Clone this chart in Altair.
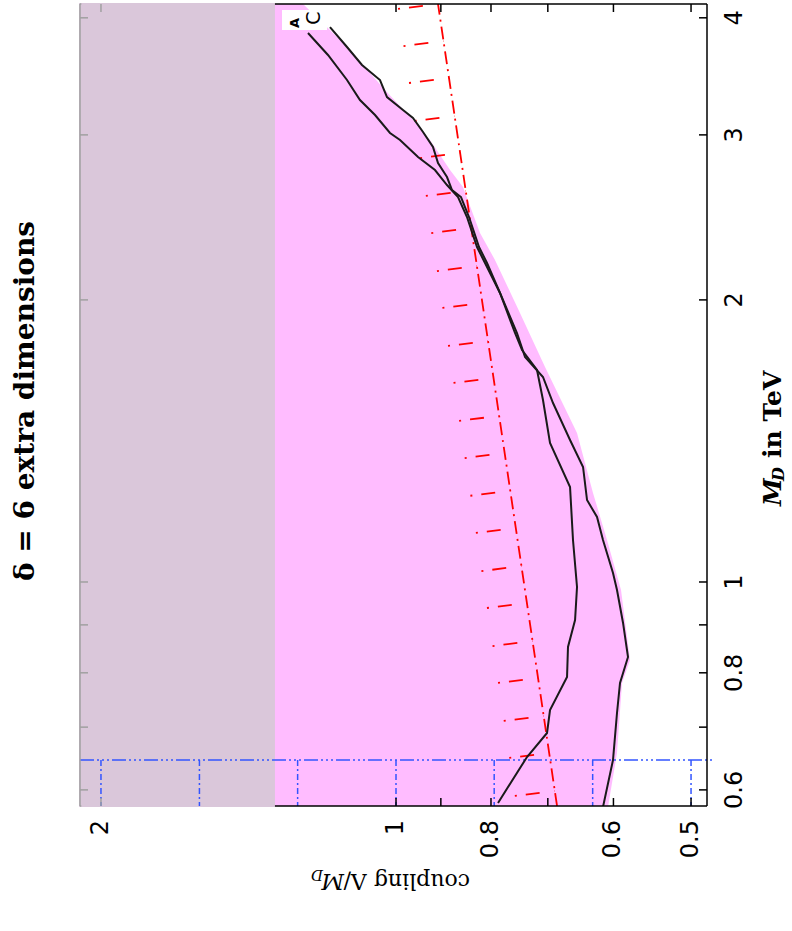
import altair as alt
import pandas as pd

# ---------------- data ----------------
md_domain = [0.5767, 4.138]      # M_D in TeV (vertical, log)
coup_domain = [0.4816, 2.101]    # coupling Lambda/M_D (horizontal, log, reversed)

# curve A (M_D, coupling)
a_md = [0.5810, 0.6505, 0.6900, 0.7301, 0.7918, 0.8524, 0.9108, 0.9878, 1.1087, 1.2629,
        1.4070, 1.5639, 1.6836, 1.7683, 1.8438, 2.0342, 2.1898, 2.2775, 2.4518, 2.5752,
        2.6523, 2.7518, 2.8411, 2.9623, 3.0139, 3.1501, 3.2685, 3.4331, 3.6505, 3.8533]
a_c = [0.7869, 0.7351, 0.7013, 0.6964, 0.6691, 0.6676, 0.6566, 0.6536, 0.6598, 0.6644,
       0.6964, 0.7080, 0.7180, 0.7437, 0.7561, 0.7832, 0.8113, 0.8267, 0.8464, 0.8644,
       0.8871, 0.9125, 0.9496, 0.9906, 1.0142, 1.0505, 1.0883, 1.1220, 1.1733, 1.2297]

# curve C
c_md = [0.5753, 0.6457, 0.7248, 0.7802, 0.8317, 0.9042, 0.9805, 1.0224, 1.1087, 1.1732,
        1.2232, 1.3266, 1.4175, 1.5524, 1.6548, 1.7382, 1.8438, 2.0342, 2.1898, 2.2775,
        2.4518, 2.5752, 2.6198, 2.7049, 2.7996, 2.9118, 3.0214, 3.1268, 3.1891, 3.2925,
        3.4331, 3.5621, 3.7231, 3.9104]
c_c = [0.6149, 0.6006, 0.5950, 0.5908, 0.5798, 0.5866, 0.5950, 0.6006, 0.6149, 0.6236,
       0.6384, 0.6444, 0.6644, 0.6915, 0.7080, 0.7385, 0.7526, 0.7832, 0.8075, 0.8228,
       0.8424, 0.8584, 0.8767, 0.8871, 0.9060, 0.9168, 0.9385, 0.9609, 0.9837, 1.0214,
       1.0383, 1.0832, 1.1220, 1.1678]

# edge of the pink (excluded) region
pink_md = [0.5753, 0.6570, 0.7802, 0.8256, 0.9805, 1.1087, 1.2445, 1.4421, 1.6961, 1.9366,
           2.2060, 2.3573, 2.6393, 2.7518, 2.9623, 3.1116, 3.3497, 3.6957, 3.8820, 4.138]
pink_c = [0.6077, 0.5950, 0.5880, 0.5771, 0.5894, 0.6091, 0.6295, 0.6536, 0.7046, 0.7473,
          0.7925, 0.8209, 0.8544, 0.8808, 0.9232, 0.9609, 1.0262, 1.1142, 1.1678, 1.2442]

# grey region: coupling above this value
gray_edge = 1.329

# red dash-dot bound and its hatches
red_md = [0.5767, 4.138]
red_c = [0.685, 0.906]
hatch_md = [4.138, 3.778, 3.450, 3.142, 2.869, 2.614, 2.386, 2.174, 1.985, 1.808, 1.651,
            1.504, 1.373, 1.251, 1.142, 1.040, 0.9497, 0.8650, 0.7899, 0.7195, 0.6570, 0.5984]
hatch_c = [0.9060, 0.8944, 0.8829, 0.8714, 0.8602, 0.8487, 0.8380, 0.8269, 0.8163, 0.8056,
           0.7953, 0.7849, 0.7747, 0.7644, 0.7546, 0.7448, 0.7352, 0.7256, 0.7163, 0.7068,
           0.6977, 0.6886]
hatch_md_end = [4.088, 3.732, 3.408, 3.104, 2.834, 2.582, 2.357, 2.147, 1.961, 1.786, 1.631,
                1.486, 1.356, 1.236, 1.128, 1.027, 0.9381, 0.8544, 0.7803, 0.7107, 0.6490, 0.5911]
hatch_c_end = [0.9952, 0.9825, 0.9699, 0.9572, 0.9449, 0.9323, 0.9205, 0.9083, 0.8967, 0.8850,
               0.8736, 0.8622, 0.8510, 0.8397, 0.8289, 0.8182, 0.8076, 0.7971, 0.7869, 0.7764,
               0.7664, 0.7564]

# blue dash-dot-dot bound
blue_md = 0.6457
blue_drops = [2.0, 1.587, 1.26, 1.0, 0.794, 0.63, 0.5]

# ticks and labels
x_ticks = [2, 1, 0.9, 0.8, 0.7, 0.6, 0.5]
x_labels = [2, 1, 0.8, 0.6, 0.5]
y_ticks = [0.6, 0.7, 0.8, 0.9, 1, 2, 3, 4]
y_labels = [0.6, 0.8, 1, 2, 3, 4]

title_text = "δ = 6 extra dimensions"

# ---------------- styling ----------------
W, H = 627, 802
PINK = "#ffbcff"
GRAY = "#dac7da"
FRAME_GRAY = "#a0a0a0"
BLUE = "#3355ff"
RED = "#ff0000"
SERIF = "DejaVu Serif"
SANS = "DejaVu Sans"

xs = alt.Scale(type="log", domain=coup_domain, reverse=True, nice=False)
ys = alt.Scale(type="log", domain=md_domain, nice=False)
one = pd.DataFrame({"k": [0]})

pink = alt.Chart(pd.DataFrame({"md": pink_md, "c": pink_c})).mark_area(
    orient="horizontal", color=PINK, clip=True
).encode(
    y=alt.Y("md:Q", scale=ys, axis=None),
    x=alt.X("c:Q", scale=xs, axis=None, stack=None),
    x2=alt.X2(datum=coup_domain[1]),
)

gray = alt.Chart(one).mark_rect(color=GRAY).encode(
    x=alt.X(datum=gray_edge, type="quantitative", scale=xs, axis=None),
    x2=alt.value(-1),
    y=alt.value(-1),
    y2=alt.value(H + 1),
)

blue_h = alt.Chart(one).mark_rule(
    color=BLUE, strokeWidth=1.5, strokeDash=[14, 3, 2, 3, 2, 3, 2, 3]
).encode(
    y=alt.Y(datum=blue_md, type="quantitative", scale=ys, axis=None),
    x=alt.value(0),
    x2=alt.value(W + 6),
)

blue_v = alt.Chart(pd.DataFrame({"c": blue_drops})).mark_rule(
    color=BLUE, strokeWidth=1.5, strokeDash=[6, 3, 2, 3]
).encode(
    x=alt.X("c:Q", scale=xs, axis=None),
    y=alt.Y(datum=blue_md, type="quantitative", scale=ys, axis=None),
    y2=alt.value(H),
)

red_line = alt.Chart(pd.DataFrame({"md": red_md, "c": red_c, "i": [0, 1]})).mark_line(
    color=RED, strokeWidth=1.8, strokeDash=[13, 5, 2, 5], clip=True
).encode(
    x=alt.X("c:Q", scale=xs, axis=None),
    y=alt.Y("md:Q", scale=ys, axis=None),
    order="i:Q",
)

hrows = []
for i in range(len(hatch_md)):
    hrows.append({"h": i, "o": 0, "md": hatch_md_end[i], "c": hatch_c_end[i]})
    hrows.append({"h": i, "o": 1, "md": hatch_md[i], "c": hatch_c[i]})
hatches = alt.Chart(pd.DataFrame(hrows)).mark_line(
    color=RED, strokeWidth=1.8, strokeDash=[2, 9, 14, 15], clip=True
).encode(
    x=alt.X("c:Q", scale=xs, axis=None),
    y=alt.Y("md:Q", scale=ys, axis=None),
    detail="h:N",
    order="o:Q",
)

def curve(md, c):
    df = pd.DataFrame({"md": md, "c": c, "i": range(len(md))})
    return alt.Chart(df).mark_line(color="#1a1a1a", strokeWidth=2, clip=True).encode(
        x=alt.X("c:Q", scale=xs, axis=None),
        y=alt.Y("md:Q", scale=ys, axis=None),
        order="i:Q",
    )

curve_a = curve(a_md, a_c)
curve_c = curve(c_md, c_c)

label_box = alt.Chart(one).mark_rect(color="white").encode(
    x=alt.value(202), x2=alt.value(247), y=alt.value(6), y2=alt.value(26)
)
lab_a = alt.Chart(pd.DataFrame({"t": ["A"]})).mark_text(
    angle=270, font=SANS, fontSize=13, fontWeight="bold", align="center", baseline="middle"
).encode(text="t:N", x=alt.value(215), y=alt.value(19))
lab_c = alt.Chart(pd.DataFrame({"t": ["C"]})).mark_text(
    angle=270, font=SANS, fontSize=19, align="center", baseline="middle"
).encode(text="t:N", x=alt.value(234), y=alt.value(14))

# frame
frame_right = alt.Chart(one).mark_rule(color="black", strokeWidth=1.5).encode(
    x=alt.value(W), y=alt.value(0), y2=alt.value(H))
frame_top = alt.Chart(one).mark_rule(color="black", strokeWidth=1.5).encode(
    x=alt.X(datum=gray_edge, type="quantitative", scale=xs, axis=None),
    x2=alt.value(W), y=alt.value(0))
frame_bottom = alt.Chart(one).mark_rule(color="black", strokeWidth=1.5).encode(
    x=alt.X(datum=gray_edge, type="quantitative", scale=xs, axis=None),
    x2=alt.value(W), y=alt.value(H))
frame_left = alt.Chart(one).mark_rule(color=FRAME_GRAY, strokeWidth=1.5).encode(
    x=alt.value(0), y=alt.value(0), y2=alt.value(H))
frame_top_g = alt.Chart(one).mark_rule(color=FRAME_GRAY, strokeWidth=1.5).encode(
    x=alt.value(0), x2=alt.X2(datum=gray_edge), y=alt.value(0))
frame_bottom_g = alt.Chart(one).mark_rule(color=FRAME_GRAY, strokeWidth=1.5).encode(
    x=alt.value(0), x2=alt.X2(datum=gray_edge), y=alt.value(H))

xt = pd.DataFrame({"v": x_ticks})
xt["col"] = [FRAME_GRAY if v > gray_edge else "black" for v in x_ticks]
yt = pd.DataFrame({"v": y_ticks})

ticks_bottom = alt.Chart(xt).mark_rule(strokeWidth=1.5).encode(
    x=alt.X("v:Q", scale=xs, axis=None), y=alt.value(H), y2=alt.value(H - 8),
    color=alt.Color("col:N", scale=None))
ticks_top = alt.Chart(xt).mark_rule(strokeWidth=1.5).encode(
    x=alt.X("v:Q", scale=xs, axis=None), y=alt.value(0), y2=alt.value(8),
    color=alt.Color("col:N", scale=None))
ticks_right = alt.Chart(yt).mark_rule(strokeWidth=1.5, color="black").encode(
    y=alt.Y("v:Q", scale=ys, axis=None), x=alt.value(W), x2=alt.value(W - 8))
ticks_left = alt.Chart(yt).mark_rule(strokeWidth=1.5, color=FRAME_GRAY).encode(
    y=alt.Y("v:Q", scale=ys, axis=None), x=alt.value(0), x2=alt.value(8))

# tick labels (placed through the scales)
xl = pd.DataFrame({"v": x_labels, "lab": [f"{v:g}" for v in x_labels]})
yl = pd.DataFrame({"v": y_labels, "lab": [f"{v:g}" for v in y_labels]})
labels_x = alt.Chart(xl).mark_text(
    angle=270, font=SANS, fontSize=24, align="right", baseline="middle", color="black"
).encode(x=alt.X("v:Q", scale=xs, axis=None), y=alt.value(H + 14), text="lab:N")
labels_y = alt.Chart(yl).mark_text(
    angle=270, font=SANS, fontSize=24, align="center", baseline="top", color="black"
).encode(y=alt.Y("v:Q", scale=ys, axis=None), x=alt.value(W + 16), text="lab:N")

# titles
title = alt.Chart(pd.DataFrame({"t": [title_text]})).mark_text(
    angle=270, font=SERIF, fontSize=28, fontWeight="bold", align="center", baseline="middle"
).encode(text="t:N", x=alt.value(26 - 80), y=alt.value(401 - 4))

# x title, upside down: "coupling Λ/M_D"
xt_anchor = dict(x=alt.value(470 - 80), y=alt.value(874 - 4))
xt1 = alt.Chart(pd.DataFrame({"t": ["coupling Λ/"]})).mark_text(
    angle=180, font=SERIF, fontSize=22, align="left", baseline="alphabetic"
).encode(text="t:N", **xt_anchor)
xt2 = alt.Chart(pd.DataFrame({"t": ["M"]})).mark_text(
    angle=180, font=SERIF, fontSize=22, fontStyle="italic", align="left",
    baseline="alphabetic", dx=126
).encode(text="t:N", **xt_anchor)
xt3 = alt.Chart(pd.DataFrame({"t": ["D"]})).mark_text(
    angle=180, font=SERIF, fontSize=15, fontStyle="italic", align="left",
    baseline="alphabetic", dx=147, dy=4
).encode(text="t:N", **xt_anchor)

# y title: "M_D in TeV", reading upwards
yt_anchor = dict(x=alt.value(781 - 80), y=alt.value(506 - 4))
yt1 = alt.Chart(pd.DataFrame({"t": ["M"]})).mark_text(
    angle=270, font=SERIF, fontSize=25, fontStyle="italic", fontWeight="bold",
    align="left", baseline="alphabetic"
).encode(text="t:N", **yt_anchor)
yt2 = alt.Chart(pd.DataFrame({"t": ["D"]})).mark_text(
    angle=270, font=SERIF, fontSize=16, fontStyle="italic", fontWeight="bold",
    align="left", baseline="alphabetic", dx=25, dy=3
).encode(text="t:N", **yt_anchor)
yt3 = alt.Chart(pd.DataFrame({"t": ["in TeV"]})).mark_text(
    angle=270, font=SERIF, fontSize=25, fontWeight="bold",
    align="left", baseline="alphabetic", dx=48
).encode(text="t:N", **yt_anchor)

chart = alt.layer(
    pink, gray, blue_h, blue_v, red_line, hatches, curve_a, curve_c,
    label_box, lab_a, lab_c,
    frame_right, frame_top, frame_bottom, frame_left, frame_top_g, frame_bottom_g,
    ticks_bottom, ticks_top, ticks_right, ticks_left, labels_x, labels_y,
    title, xt1, xt2, xt3, yt1, yt2, yt3,
).properties(
    width=W, height=H,
    padding={"left": 80, "top": 4, "right": 85, "bottom": 125},
    autosize=alt.AutoSizeParams(type="none"),
).configure_view(stroke=None)

chart.save("out.html", embed_options={"renderer": "svg", "actions": False})
